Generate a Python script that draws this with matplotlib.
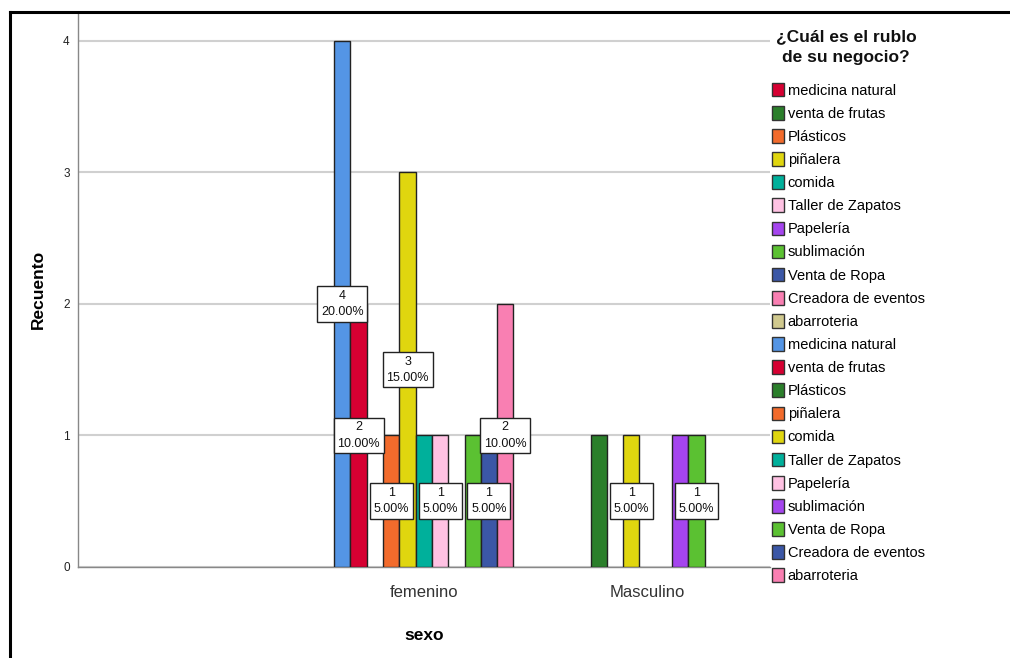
import matplotlib
matplotlib.use("Agg")
import matplotlib.pyplot as plt
from matplotlib.patches import Patch
from matplotlib.lines import Line2D

plt.rcParams['font.family'] = ['Liberation Sans', 'DejaVu Sans']

# sexo categories (first one is the unlabeled / missing group)
categorias = ["", "femenino", "Masculino"]
rubros = ["medicina natural", "venta de frutas", "Plásticos", "piñalera", "comida",
          "Taller de Zapatos", "Papelería", "sublimación", "Venta de Ropa",
          "Creadora de eventos", "abarroteria"]

# counts per rubro, one list per sexo category
recuento_blanco = [0, 0, 0, 0, 0, 0, 0, 0, 0, 0, 0]
recuento_femenino = [4, 2, 0, 1, 3, 1, 1, 0, 1, 1, 2]
recuento_masculino = [0, 0, 1, 0, 1, 0, 0, 1, 1, 0, 0]
total = 20

# which bars get a value label (the rest are hidden behind their neighbours)
etiquetas_femenino = [True, True, False, True, True, False, True, False, False, True, True]
etiquetas_masculino = [False, False, False, False, True, False, False, False, True, False, False]

colores_1 = ["#D60032", "#2B7F2B", "#F26B2C", "#E0D60F", "#00B09B", "#FFC2E3",
             "#A545EE", "#5BC132", "#3B57A6", "#F97FB2", "#D0C98E"]
colores_2 = ["#5495E5", "#D60032", "#2B7F2B", "#F26B2C", "#E0D60F", "#00B09B",
             "#FFC2E3", "#A545EE", "#5BC132", "#3B57A6", "#F97FB2"]

fig = plt.figure(figsize=(10.1, 6.58), dpi=100)
ax = fig.add_axes([0.0772, 0.1383, 0.6848, 0.8435])

ancho = 0.0728
n = len(rubros)
grupos = [(recuento_blanco, colores_1, [False] * n),
          (recuento_femenino, colores_2, etiquetas_femenino),
          (recuento_masculino, colores_2, etiquetas_masculino)]

for ci, (valores, colores, etiquetas) in enumerate(grupos):
    for j, v in enumerate(valores):
        if v == 0:
            continue
        xc = ci + (j - (n - 1) / 2) * ancho
        ax.bar(xc, v, width=ancho, color=colores[j], edgecolor="#222222",
               linewidth=1.0, zorder=3)
    for j, v in enumerate(valores):
        if v == 0 or not etiquetas[j]:
            continue
        xc = ci + (j - (n - 1) / 2) * ancho
        ax.text(xc, v / 2, f"{v}\n{v / total * 100:.2f}%", ha="center", va="center",
                fontsize=9, linespacing=1.45, zorder=5, color="#111111",
                bbox=dict(boxstyle="square,pad=0.3", facecolor="white",
                          edgecolor="#222222", linewidth=1.0))

ax.set_xlim(-0.545, 2.545)
ax.set_ylim(0, 4.22)
ax.set_xticks(range(len(categorias)))
ax.set_xticklabels(categorias, fontsize=12, color="#333333")
ax.set_yticks([0, 1, 2, 3, 4])
ax.set_yticklabels(["0", "1", "2", "3", "4"], fontsize=8.5, color="#222222")
ax.tick_params(length=0)
ax.tick_params(axis="y", pad=6)
ax.tick_params(axis="x", pad=13)
ax.yaxis.grid(True, color="#D0D0D0", linewidth=1.5, zorder=0)
ax.set_axisbelow(True)
for s in ["top", "right"]:
    ax.spines[s].set_visible(False)
for s in ["left", "bottom"]:
    ax.spines[s].set_color("#888888")
    ax.spines[s].set_linewidth(1.0)

ax.set_ylabel("Recuento", fontsize=12.5, fontweight="bold", labelpad=12)
ax.set_xlabel("sexo", fontsize=12.5, fontweight="bold", labelpad=20)

# legend title drawn separately so its spacing can be set
fig.text(0.8376, 1 - 29 / 658, "¿Cuál es el rublo\nde su negocio?", ha="center", va="top",
         fontsize=12.5, fontweight="bold", linespacing=1.5, color="#111111")

handles = [Patch(facecolor=c, edgecolor="#333333", linewidth=1.0) for c in colores_1 + colores_2]
leg = fig.legend(handles, rubros + rubros, loc="upper left",
                 bbox_to_anchor=(0.754, 0.8896), frameon=False, fontsize=10.5,
                 handlelength=0.85, handleheight=1.05, handletextpad=0.25,
                 labelspacing=0.575, borderpad=0.2)

# outer frame
fig.add_artist(Line2D([0.0099, 1.0], [0.982, 0.982], color="black", linewidth=2.2))
fig.add_artist(Line2D([0.0099, 0.0099], [0.0, 0.982], color="black", linewidth=2.2))

fig.savefig("out.png", dpi=100)
